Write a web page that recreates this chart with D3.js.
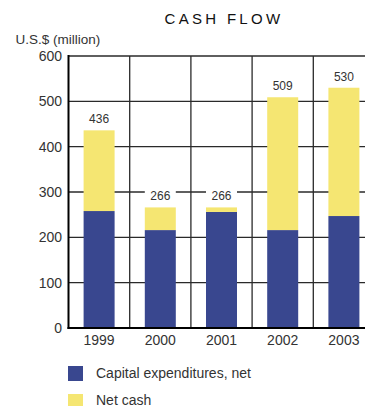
<!DOCTYPE html>
<html>
<head>
<meta charset="utf-8">
<script src="https://cdn.jsdelivr.net/npm/d3@7"></script>
<style>
  html, body { margin: 0; padding: 0; background: #fff; overflow: hidden; }
  svg { display: block; font-family: "Liberation Sans", Arial, Helvetica, sans-serif; }
</style>
</head>
<body>
<svg id="chart" width="365" height="406"></svg>
<script>
// Cash flow by year (US$ million)
const years = ["1999", "2000", "2001", "2002", "2003"];
const capex = [258, 216, 256, 216, 247];          // Capital expenditures, net
const totals = [436, 266, 266, 509, 530];         // stacked total labelled above each bar
const netCash = totals.map((t, i) => t - capex[i]); // Net cash
const yTicks = [0, 100, 200, 300, 400, 500, 600];
const seriesNames = ["Capital expenditures, net", "Net cash"];
const seriesColors = ["#39478f", "#f5e672"];

const svg = d3.select("#chart");
const textColor = "#333";

const plotLeft = 68.5, plotTop = 56, plotBottom = 328;
const step = 61.2;

const x = d3.scaleBand()
  .domain(years)
  .range([plotLeft, plotLeft + step * years.length])
  .paddingInner(0).paddingOuter(0);

const y = d3.scaleLinear().domain([0, 600]).range([plotBottom, plotTop]);

const barW = 31;

// horizontal gridlines
svg.append("g")
  .selectAll("line")
  .data(yTicks.filter(d => d > 0))
  .join("line")
  .attr("x1", plotLeft).attr("x2", 365)
  .attr("y1", d => y(d)).attr("y2", d => y(d))
  .attr("stroke", "#2a2a2a")
  .attr("stroke-width", d => d === 600 ? 1.6 : 1.3);

// vertical gridlines between years
svg.append("g")
  .selectAll("line")
  .data(years.slice(1))
  .join("line")
  .attr("x1", d => x(d)).attr("x2", d => x(d))
  .attr("y1", plotTop).attr("y2", plotBottom)
  .attr("stroke", "#2a2a2a")
  .attr("stroke-width", 1.3);

// stacked bars
const stackData = years.map((yr, i) => ({ year: yr, capex: capex[i], net: netCash[i] }));
const stacked = d3.stack().keys(["capex", "net"])(stackData);

svg.append("g")
  .selectAll("g")
  .data(stacked)
  .join("g")
  .attr("fill", (d, i) => seriesColors[i])
  .selectAll("rect")
  .data(d => d)
  .join("rect")
  .attr("x", d => x(d.data.year) + x.bandwidth() / 2 - barW / 2)
  .attr("width", barW)
  .attr("y", d => y(d[1]))
  .attr("height", d => y(d[0]) - y(d[1]));

// value labels with white backing
const labels = svg.append("g");
years.forEach((yr, i) => {
  const cx = x(yr) + x.bandwidth() / 2;
  const yt = y(totals[i]);
  labels.append("rect")
    .attr("x", cx - barW / 2).attr("width", barW)
    .attr("y", yt - 19).attr("height", 17)
    .attr("fill", "#fff");
  labels.append("text")
    .attr("x", cx).attr("y", yt - 7)
    .attr("text-anchor", "middle")
    .attr("font-size", 12)
    .attr("fill", textColor)
    .text(totals[i]);
});

// axis lines
svg.append("line")
  .attr("x1", plotLeft).attr("x2", plotLeft)
  .attr("y1", plotTop - 1).attr("y2", plotBottom + 1)
  .attr("stroke", "#000").attr("stroke-width", 2);
svg.append("line")
  .attr("x1", plotLeft - 1).attr("x2", 365)
  .attr("y1", plotBottom).attr("y2", plotBottom)
  .attr("stroke", "#000").attr("stroke-width", 2);

// y tick labels
svg.append("g")
  .selectAll("text")
  .data(yTicks)
  .join("text")
  .attr("x", 62)
  .attr("y", d => y(d) + 5)
  .attr("text-anchor", "end")
  .attr("font-size", 14)
  .attr("fill", textColor)
  .text(d => d);

// x tick labels
svg.append("g")
  .selectAll("text")
  .data(years)
  .join("text")
  .attr("x", d => x(d) + x.bandwidth() / 2)
  .attr("y", 345)
  .attr("text-anchor", "middle")
  .attr("font-size", 14)
  .attr("fill", textColor)
  .text(d => d);

// title and unit
svg.append("text")
  .attr("x", 224).attr("y", 24)
  .attr("text-anchor", "middle")
  .attr("font-size", 15)
  .attr("letter-spacing", 3.3)
  .attr("fill", "#111")
  .text("CASH FLOW");

svg.append("text")
  .attr("x", 15.5).attr("y", 44)
  .attr("font-size", 13.5)
  .attr("fill", textColor)
  .text("U.S.$ (million)");

// legend
const legend = svg.append("g");
seriesNames.forEach((name, i) => {
  legend.append("rect")
    .attr("x", 68).attr("y", 366 + i * 28)
    .attr("width", 15).attr("height", 15)
    .attr("fill", seriesColors[i]);
  legend.append("text")
    .attr("x", 96).attr("y", 377.5 + i * 27)
    .attr("font-size", 14)
    .attr("fill", textColor)
    .text(name);
});
</script>
</body>
</html>
